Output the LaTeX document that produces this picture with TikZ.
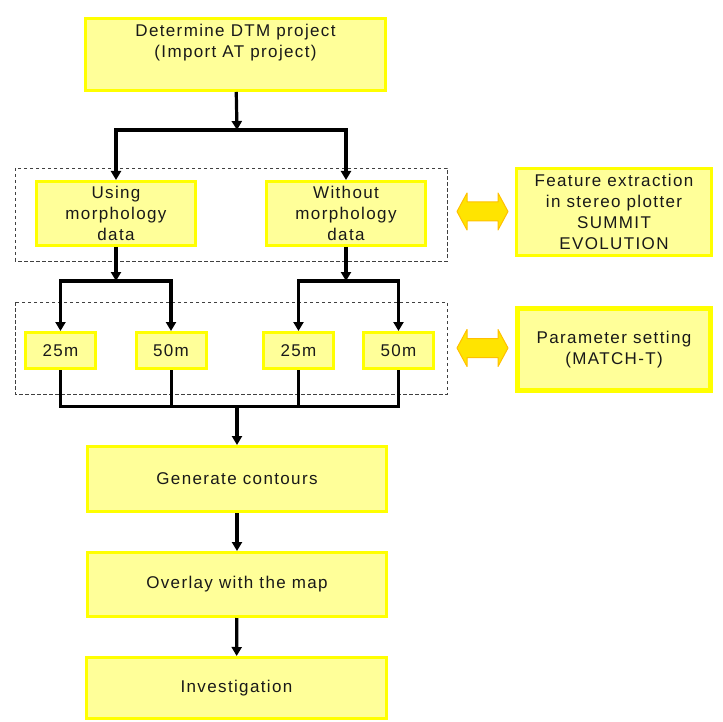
\documentclass[tikz,border=0pt]{standalone}
\usepackage{fontspec}
\newfontfamily\chartfont{Liberation Sans}[LetterSpace=8]
\usetikzlibrary{arrows.meta, calc}

\definecolor{boxfill}{HTML}{FFFF99}
\definecolor{boxline}{HTML}{FFFF00}
\definecolor{arrowfill}{HTML}{FFE400}
\definecolor{arrowline}{HTML}{FFC000}

\tikzset{
  stepbox/.style={draw=boxline, fill=boxfill, line width=3pt, inner sep=0pt,
    align=center, text=black!90, font=\chartfont\fontsize{17}{20.8}\selectfont},
  flow/.style={line width=3.2pt, -{Triangle[length=9pt,width=10pt]}},
  joinline/.style={line width=3pt},
  group/.style={draw=black!75, line width=0.8pt, dash pattern=on 3.5pt off 2.5pt},
  dblarrow/.style={fill=arrowfill, draw=arrowline, line width=1pt, line join=round},
}

\begin{document}
\begin{tikzpicture}[x=1pt,y=-1pt]
    \useasboundingbox (0,0) rectangle (723,722);

    % dashed groups
    \draw[group] (15,168) rectangle (447,261);
    \draw[group] (15,302) rectangle (447,394);

    \node[stepbox, minimum width=300pt, minimum height=72pt] (dtm) at (235.5,54.5) {Determine DTM project\\(Import AT project)\\\strut};

    \node[stepbox, minimum width=159pt, minimum height=64pt] (using) at (116,213.5) {Using\\morphology\\data};
    \node[stepbox, minimum width=159pt, minimum height=64pt] (without) at (346,213.5) {Without\\morphology\\data};

    \node[stepbox, minimum width=70pt, minimum height=36pt] (l25) at (60.5,350.5) {25m};
    \node[stepbox, minimum width=70pt, minimum height=36pt] (l50) at (171,350.5) {50m};
    \node[stepbox, minimum width=70pt, minimum height=36pt] (r25) at (298.5,350.5) {25m};
    \node[stepbox, minimum width=70pt, minimum height=36pt] (r50) at (398.5,350.5) {50m};

    \node[stepbox, minimum width=299pt, minimum height=65pt] (contours) at (237,479) {Generate contours};
    \node[stepbox, minimum width=299pt, minimum height=64pt] (overlay) at (237,584.5) {Overlay with the map};
    \node[stepbox, minimum width=300pt, minimum height=61pt] (invest) at (236.5,688) {Investigation};

    \node[stepbox, line width=3.5pt, minimum width=195pt, minimum height=87pt] (feature) at (614,212) {Feature extraction\\in stereo plotter\\SUMMIT\\EVOLUTION};
    \node[stepbox, line width=5pt, minimum width=193pt, minimum height=82pt] (param) at (614,349.5) {Parameter setting\\(MATCH-T)};

    % split points
    \coordinate (split) at (237,130);
    \coordinate (usplit) at (116,281);
    \coordinate (wsplit) at (346,281);
    \coordinate (merge) at (237,406);

    \draw[flow] (dtm) -- (split);
    \draw[flow] (split) -| (using);
    \draw[flow] (split) -| (without);

    \draw[flow] (using) -- (usplit);
    \draw[flow] (usplit) -| (l25);
    \draw[flow] (usplit) -| (l50);
    \draw[flow] (without) -- (wsplit);
    \draw[flow] (wsplit) -| (r25);
    \draw[flow] (wsplit) -| (r50);

    \foreach \n in {l25,l50,r25,r50}
        \draw[joinline] (\n) |- (merge);

    \draw[flow] (merge) -- (contours);
    \draw[flow] (contours) -- (overlay);
    \draw[flow] (overlay) -- (invest);

    % double arrows to the side boxes
    \foreach \cy in {211.5,348}
        \draw[dblarrow] (482.5,\cy) +(-25.5,0) -- +(-15.5,-18.5) -- +(-15.5,-9.5) -- +(15.5,-9.5)
            -- +(15.5,-18.5) -- +(25.5,0) -- +(15.5,18.5) -- +(15.5,9.5) -- +(-15.5,9.5)
            -- +(-15.5,18.5) -- cycle;
\end{tikzpicture}
\end{document}
